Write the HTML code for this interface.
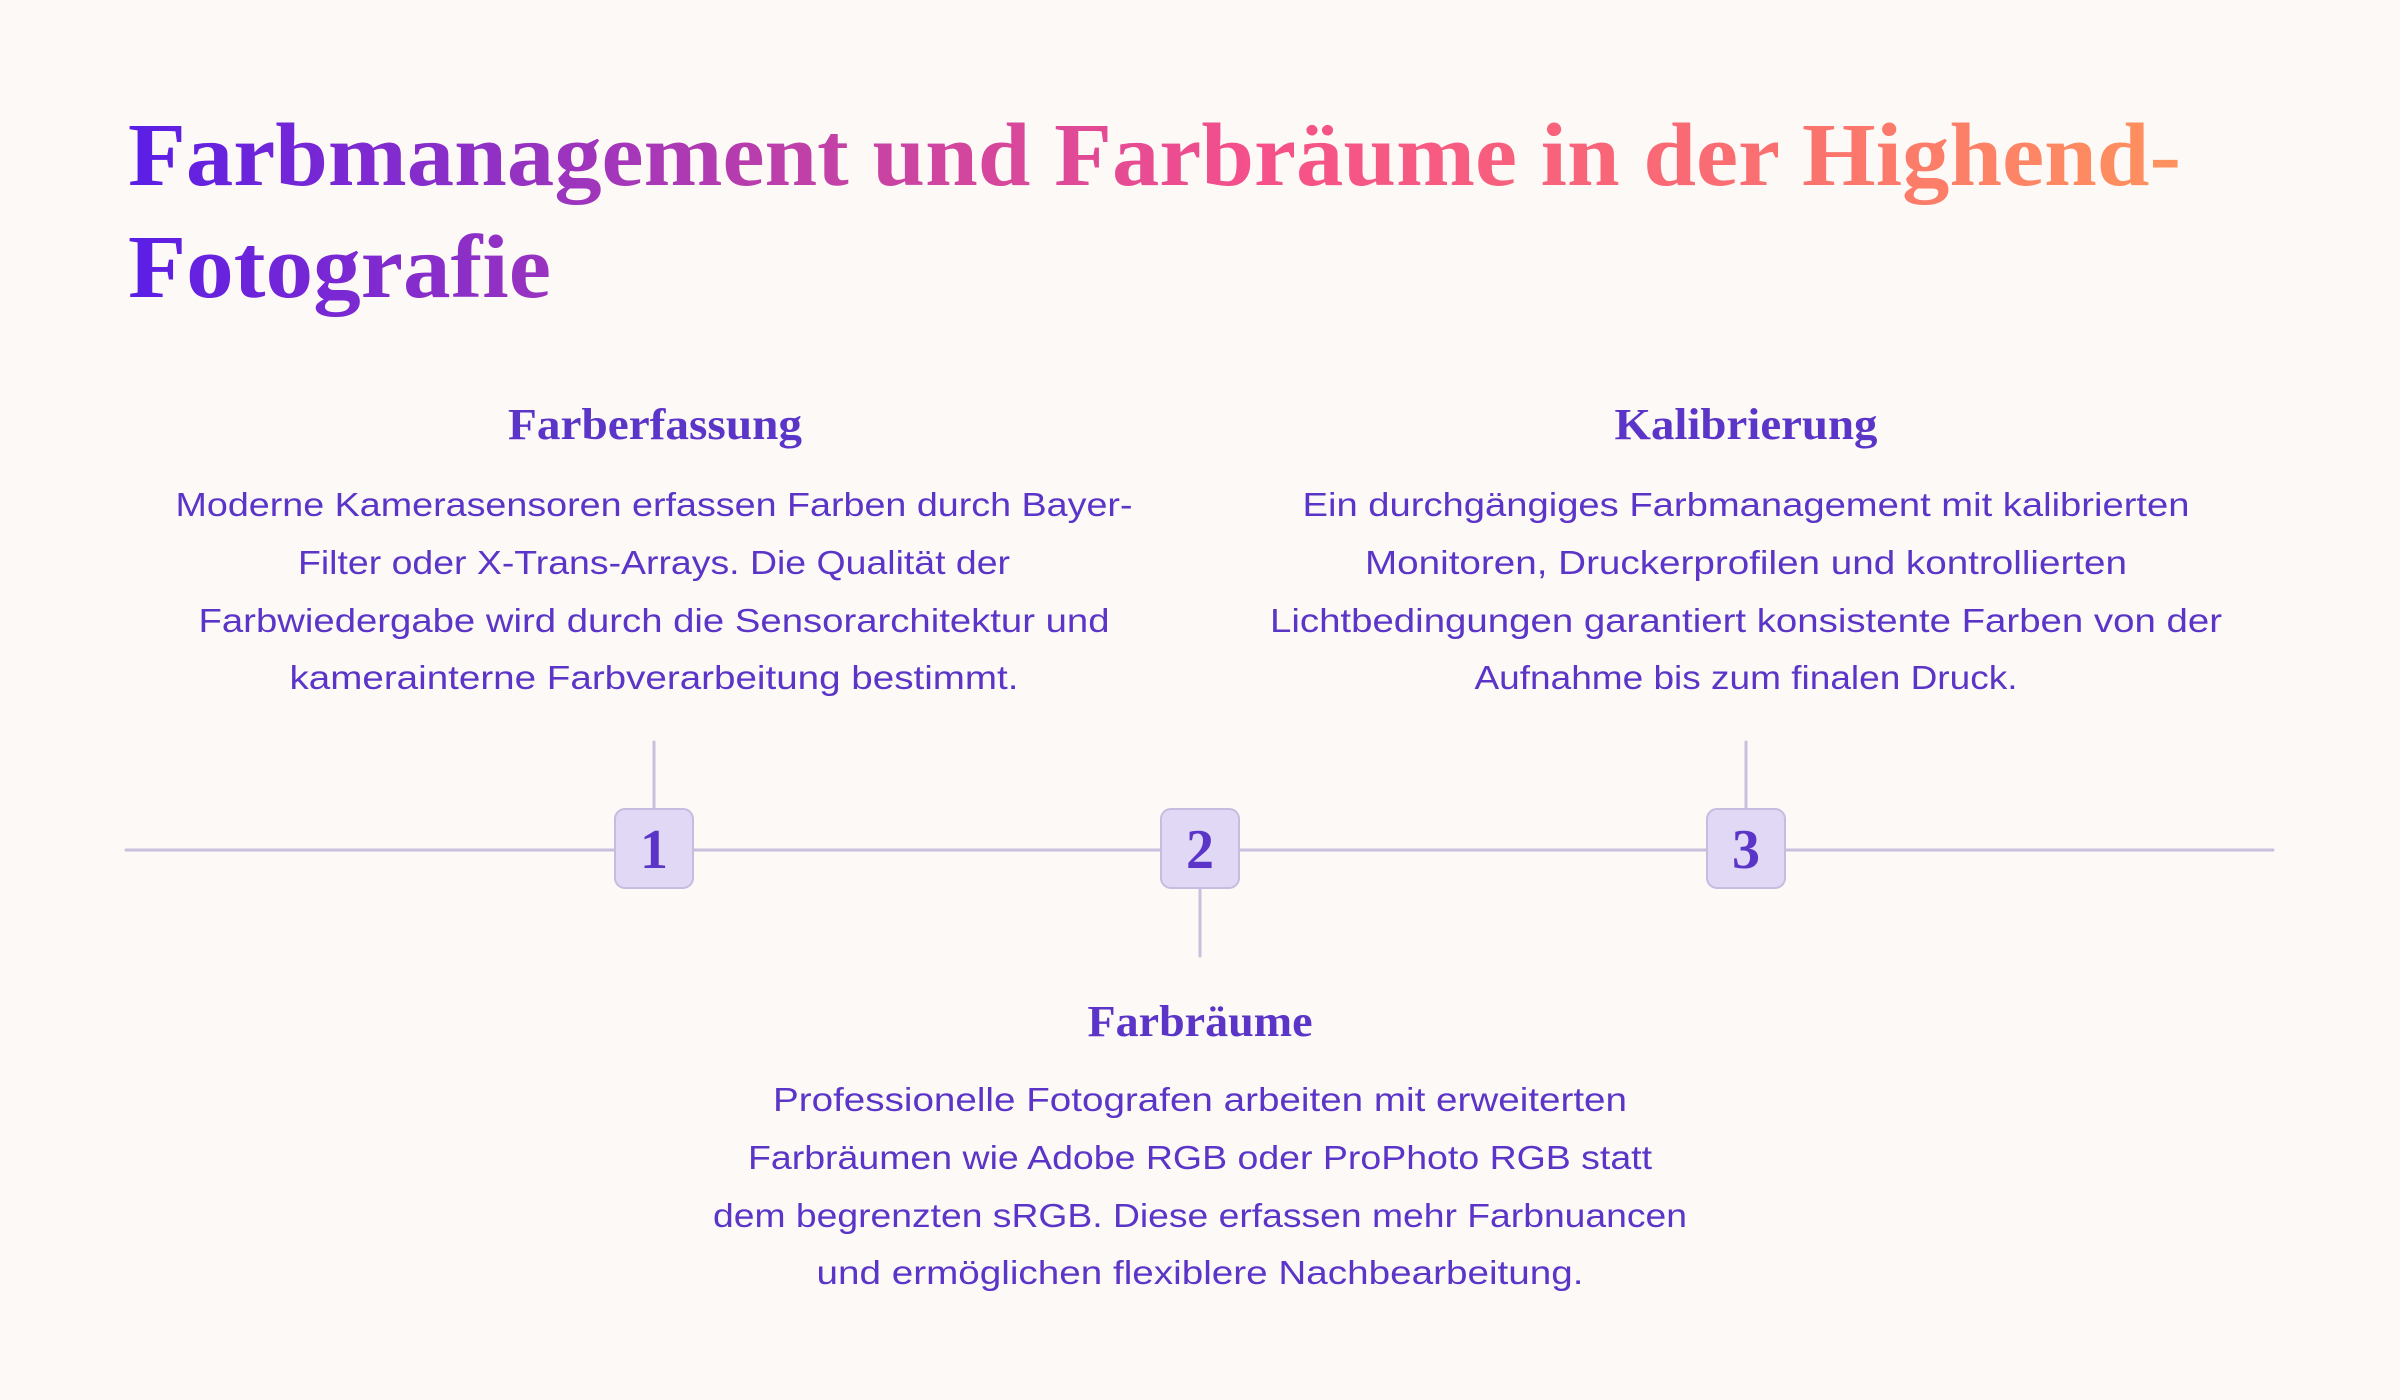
<!DOCTYPE html>
<html><head><meta charset="utf-8"><style>html,body{margin:0;padding:0;background:#fdf9f6}svg{display:block}</style></head>
<body>
<svg width="2400" height="1400" viewBox="0 0 2400 1400" xmlns="http://www.w3.org/2000/svg">
<defs>
<linearGradient id="g" gradientUnits="userSpaceOnUse" x1="128" y1="0" x2="2181" y2="0">
<stop offset="0" stop-color="#5a1ee6"/><stop offset="0.33" stop-color="#c040a8"/><stop offset="0.55" stop-color="#f5508a"/><stop offset="0.8" stop-color="#fa7070"/><stop offset="1" stop-color="#ff925e"/>
</linearGradient>
</defs>
<rect width="2400" height="1400" fill="#fdf9f6"/>
<g font-family="Liberation Serif, serif" font-weight="bold" fill="url(#g)" font-size="90">
<text x="128" y="185" textLength="2053" lengthAdjust="spacingAndGlyphs">Farbmanagement und Farbräume in der Highend-</text>
<text x="128" y="297" textLength="423" lengthAdjust="spacingAndGlyphs">Fotografie</text>
</g>
<g stroke="#c8c0dc" stroke-width="3" stroke-linecap="round">
<line x1="126" y1="850" x2="2273" y2="850"/>
<line x1="654" y1="742" x2="654" y2="810"/>
<line x1="1746" y1="742" x2="1746" y2="810"/>
<line x1="1200" y1="886" x2="1200" y2="956"/>
</g>
<g fill="#e0d8f5" stroke="#c5bcdf" stroke-width="2">
<rect x="615" y="809" width="78" height="79" rx="10"/>
<rect x="1161" y="809" width="78" height="79" rx="10"/>
<rect x="1707" y="809" width="78" height="79" rx="10"/>
</g>
<g font-family="Liberation Serif, serif" font-size="56" fill="#5b35c8" text-anchor="middle" font-weight="bold">
<text x="654" y="868">1</text><text x="1200" y="868">2</text><text x="1746" y="868">3</text>
</g>
<g font-family="Liberation Serif, serif" font-weight="bold" font-size="44" fill="#5b35c8" text-anchor="middle">
<text x="655" y="439" textLength="294" lengthAdjust="spacingAndGlyphs">Farberfassung</text>
<text x="1746" y="439" textLength="263" lengthAdjust="spacingAndGlyphs">Kalibrierung</text>
<text x="1200" y="1036" textLength="225" lengthAdjust="spacingAndGlyphs">Farbräume</text>
</g>
<g font-family="Liberation Sans, sans-serif" font-size="33" fill="#5b35c8" text-anchor="middle" lengthAdjust="spacingAndGlyphs">
<text x="654" y="516" textLength="957" lengthAdjust="spacingAndGlyphs">Moderne Kamerasensoren erfassen Farben durch Bayer-</text>
<text x="654" y="574" textLength="712" lengthAdjust="spacingAndGlyphs">Filter oder X-Trans-Arrays. Die Qualität der</text>
<text x="654" y="632" textLength="911" lengthAdjust="spacingAndGlyphs">Farbwiedergabe wird durch die Sensorarchitektur und</text>
<text x="654" y="689" textLength="729" lengthAdjust="spacingAndGlyphs">kamerainterne Farbverarbeitung bestimmt.</text>
<text x="1746" y="516" textLength="887" lengthAdjust="spacingAndGlyphs">Ein durchgängiges Farbmanagement mit kalibrierten</text>
<text x="1746" y="574" textLength="762" lengthAdjust="spacingAndGlyphs">Monitoren, Druckerprofilen und kontrollierten</text>
<text x="1746" y="632" textLength="952" lengthAdjust="spacingAndGlyphs">Lichtbedingungen garantiert konsistente Farben von der</text>
<text x="1746" y="689" textLength="543" lengthAdjust="spacingAndGlyphs">Aufnahme bis zum finalen Druck.</text>
<text x="1200" y="1111" textLength="854" lengthAdjust="spacingAndGlyphs">Professionelle Fotografen arbeiten mit erweiterten</text>
<text x="1200" y="1169" textLength="904" lengthAdjust="spacingAndGlyphs">Farbräumen wie Adobe RGB oder ProPhoto RGB statt</text>
<text x="1200" y="1227" textLength="974" lengthAdjust="spacingAndGlyphs">dem begrenzten sRGB. Diese erfassen mehr Farbnuancen</text>
<text x="1200" y="1284" textLength="767" lengthAdjust="spacingAndGlyphs">und ermöglichen flexiblere Nachbearbeitung.</text>
</g>
</svg>
</body></html>
